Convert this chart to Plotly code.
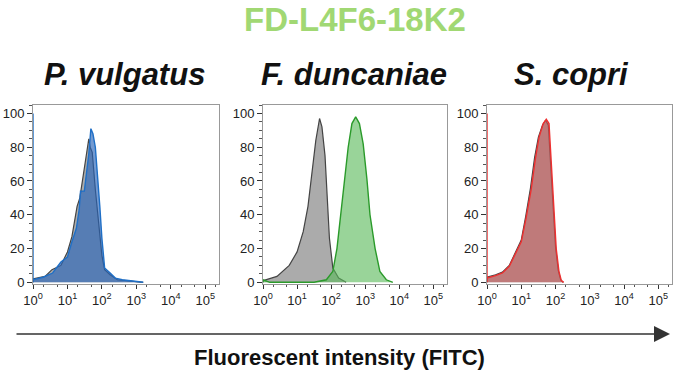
import plotly.graph_objects as go

# ---------------- data (log10 positions, % of max) ----------------
title_text = "FD-L4F6-18K2"
species = ["P. vulgatus", "F. duncaniae", "S. copri"]
x_label = "Fluorescent intensity (FITC)"
tick_vals = [1, 10, 100, 1000, 10000, 100000]
tick_text = ["10<sup>0</sup>", "10<sup>1</sup>", "10<sup>2</sup>", "10<sup>3</sup>", "10<sup>4</sup>", "10<sup>5</sup>"]
y_ticks = [0, 20, 40, 60, 80, 100]

# P. vulgatus
pv_ctrl_log = [0.0, 0.0, 0.35, 0.55, 0.81, 1.0, 1.13, 1.28, 1.36, 1.47, 1.56, 1.62, 1.66, 1.72, 1.81, 1.91, 2.0, 2.08, 2.24, 2.45, 3.0, 3.2]
pv_ctrl_val = [0, 2, 3.5, 7.5, 10, 18, 27, 45, 50, 65, 78, 85, 80, 77, 55, 32, 16, 7.5, 4.5, 1.5, 0.5, 0]
pv_samp_log = [0.0, 0.0, 0.0, 0.29, 0.57, 0.81, 1.0, 1.13, 1.26, 1.34, 1.38, 1.49, 1.56, 1.62, 1.68, 1.74, 1.81, 1.88, 1.94, 2.0, 2.08, 2.24, 2.39, 2.59, 3.0, 3.2]
pv_samp_val = [0, 100, 1.5, 3, 5.5, 12, 15, 24, 32, 43, 54, 54, 65, 76, 91, 88, 80, 63, 45, 26, 8.5, 5.5, 2.5, 1.5, 0.5, 0]

# F. duncaniae
fd_ctrl_log = [0.0, 0.0, 0.41, 0.77, 1.0, 1.18, 1.32, 1.45, 1.55, 1.66, 1.73, 1.82, 1.88, 1.95, 2.05, 2.22, 2.44]
fd_ctrl_val = [0, 1, 3.5, 10, 18, 30, 45, 69, 84, 97, 92, 75, 49, 26, 8.5, 2.5, 0]
fd_samp_log = [0.0, 0.0, 0.2, 1.5, 1.86, 2.05, 2.17, 2.28, 2.39, 2.5, 2.61, 2.72, 2.83, 2.94, 3.05, 3.14, 3.29, 3.43, 3.62, 3.81]
fd_samp_val = [0, 1.5, 0, 0, 1.5, 6.5, 20, 40, 61, 80, 94, 98, 94, 82, 61, 40, 20, 6.5, 1.5, 0]

# S. copri
sc_ctrl_log = [0.0, 0.0, 0.25, 0.45, 0.65, 0.85, 1.0, 1.13, 1.27, 1.39, 1.5, 1.62, 1.71, 1.79, 1.87, 1.94, 2.0, 2.08, 2.15, 2.22]
sc_ctrl_val = [0, 3, 4.5, 6, 10, 19, 25, 39, 56, 74, 86, 93, 96, 93, 66, 41, 21, 7, 1.5, 0]
sc_samp_log = [0.0, 0.0, 0.0, 0.25, 0.45, 0.65, 0.85, 1.0, 1.14, 1.29, 1.41, 1.52, 1.64, 1.73, 1.81, 1.89, 1.95, 2.02, 2.1, 2.17, 2.24]
sc_samp_val = [0, 100, 2.5, 4, 5.5, 9.5, 18, 24, 38, 55, 73, 86, 94, 96.5, 94, 65, 40, 20, 6.5, 1, 0]

panels = [
    (pv_ctrl_log, pv_ctrl_val, pv_samp_log, pv_samp_val, "rgba(40,100,185,0.65)", "#1f6fc6"),
    (fd_ctrl_log, fd_ctrl_val, fd_samp_log, fd_samp_val, "rgba(90,185,90,0.62)", "#2a9a2a"),
    (sc_ctrl_log, sc_ctrl_val, sc_samp_log, sc_samp_val, "rgba(205,90,90,0.6)", "#ee3030"),
]

# ---------------- figure ----------------
W, H = 680, 377
x_domains = [(33 / W, 219 / W), (263 / W, 447 / W), (487 / W, 672 / W)]
y_domain = ((377 - 284) / H, (377 - 105) / H)

fig = go.Figure()
font_family = "Liberation Sans, Arial, sans-serif"

for i, (cl, cv, sl, sv, fillc, linec) in enumerate(panels):
    xa = "x" if i == 0 else f"x{i+1}"
    ya = "y" if i == 0 else f"y{i+1}"
    fig.add_trace(go.Scatter(
        x=[10 ** v for v in cl], y=cv, xaxis=xa, yaxis=ya, mode="lines",
        line=dict(color="#444444", width=1.2), fill="tozeroy",
        fillcolor="rgba(150,150,150,0.8)", showlegend=False, hoverinfo="skip"))
    fig.add_trace(go.Scatter(
        x=[10 ** v for v in sl], y=sv, xaxis=xa, yaxis=ya, mode="lines",
        line=dict(color=linec, width=1.4), fill="tozeroy",
        fillcolor=fillc, showlegend=False, hoverinfo="skip"))

    xkey = "xaxis" if i == 0 else f"xaxis{i+1}"
    ykey = "yaxis" if i == 0 else f"yaxis{i+1}"
    fig.layout[xkey] = dict(
        type="log", range=[0, 5.4], domain=list(x_domains[i]), anchor=ya,
        tickvals=tick_vals, ticktext=tick_text, ticks="outside", ticklen=4,
        tickcolor="#333", showline=True, linecolor="#999", mirror=True,
        showgrid=False, zeroline=False, automargin=False,
        tickfont=dict(family=font_family, size=13, color="#222"),
        minor=dict(ticks="outside", ticklen=2, tickcolor="#555", showgrid=False),
    )
    fig.layout[ykey] = dict(
        range=[-1, 105], domain=list(y_domain), anchor=xa,
        tickvals=y_ticks, ticks="outside", ticklen=5, tickcolor="#333",
        showline=True, linecolor="#999", mirror=True, showgrid=False,
        zeroline=False, automargin=False,
        tickfont=dict(family=font_family, size=13, color="#222"),
        minor=dict(ticks="outside", ticklen=3, tickcolor="#555", dtick=5, showgrid=False),
    )

annotations = [
    dict(text=f"<b>{title_text}</b>", x=355 / W, y=1.0, xref="paper", yref="paper",
         xanchor="center", yanchor="top", borderpad=0,
         showarrow=False, font=dict(family=font_family, size=33, color="#a1d873")),
]
sub_x = [124, 354, 571]
for sx, name in zip(sub_x, species):
    annotations.append(dict(text=f"<b><i>{name}</i></b>", x=sx / W, y=1 - 75 / H,
                            xref="paper", yref="paper", showarrow=False,
                            xanchor="center", yanchor="middle",
                            font=dict(family=font_family, size=31, color="#111")))
annotations.append(dict(text=f"<b>{x_label}</b>", x=339 / W, y=1 - 357 / H,
                        xref="paper", yref="paper", showarrow=False,
                        xanchor="center", yanchor="middle",
                        font=dict(family=font_family, size=22, color="#111")))
annotations.append(dict(text="", x=670 / W, y=1 - 334 / H, xref="paper", yref="paper",
                        ax=-655, ay=0, axref="pixel", ayref="pixel", showarrow=True,
                        arrowhead=2, arrowsize=2, arrowwidth=1.6, arrowcolor="#333"))

fig.update_layout(
    width=W, height=H, margin=dict(l=0, r=0, t=0, b=0, autoexpand=False),
    paper_bgcolor="white", plot_bgcolor="white",
    annotations=annotations, font=dict(family=font_family),
)

fig.write_html("out.html", config={"displayModeBar": False},
               post_script="document.body.style.margin='0';")
